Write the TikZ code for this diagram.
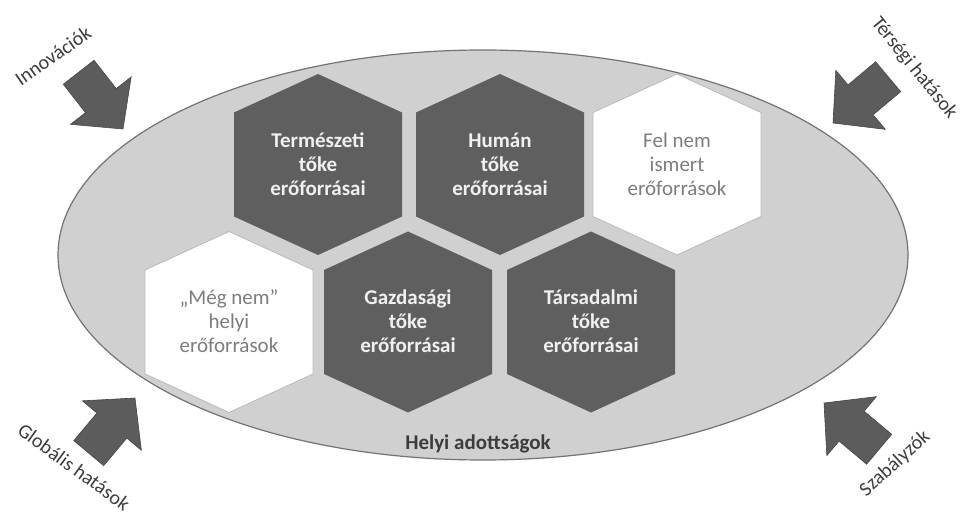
\documentclass[tikz,border=0pt]{standalone}
\usepackage{fontspec}
\setmainfont{Carlito}
\definecolor{ellfill}{RGB}{208,208,208}
\definecolor{elldraw}{RGB}{115,115,115}
\definecolor{hexdark}{RGB}{95,95,95}
\definecolor{arrowfill}{RGB}{92,92,92}
\definecolor{arrowdraw}{RGB}{70,70,70}
\definecolor{hexedge}{RGB}{185,185,185}
\definecolor{lighttext}{RGB}{125,125,125}
\definecolor{darktext}{RGB}{240,240,240}
\definecolor{labeltext}{RGB}{60,60,60}
\tikzset{
  pics/hexa/.style={code={\path[pic actions] (0,-90.5) -- (84,-52) -- (84,52) -- (0,90.5) -- (-84,52) -- (-84,-52) -- cycle;}},
  pics/fatarrow/.style={code={\path[pic actions] (0,0) -- (-36,-38.5) -- (-36,-19.5) -- (-72,-19.5) -- (-72,19.5) -- (-36,19.5) -- (-36,38.5) -- cycle;}},
  darkhex/.style={fill=hexdark},
  whitehex/.style={fill=white, draw=hexedge, line width=0.8pt},
  darklabel/.style={align=center, text=darktext, font=\fontsize{21}{24}\selectfont\bfseries},
  lightlabel/.style={align=center, text=lighttext, font=\fontsize{21}{24}\selectfont},
  bigarrow/.style={fill=arrowfill, draw=arrowdraw, line width=0.6pt},
  sidelabel/.style={text=labeltext, font=\fontsize{20}{24}\selectfont},
}
\begin{document}
\begin{tikzpicture}[x=1pt,y=-1pt]
\useasboundingbox (0,0) rectangle (961,518);
% base ellipse
\draw[fill=ellfill, draw=elldraw, line width=1.2pt] (483,255) ellipse [x radius=425, y radius=205];
% hexagons, top row
\pic[darkhex] at (318,164.5) {hexa};
\pic[darkhex] at (500,164.5) {hexa};
\pic[whitehex] at (677,164.5) {hexa};
% hexagons, bottom row
\pic[whitehex] at (229,322) {hexa};
\pic[darkhex] at (408,322) {hexa};
\pic[darkhex] at (591,322) {hexa};
% texts
\node[darklabel] (term) at (318,164) {Természeti\\tőke\\erőforrásai};
\node[darklabel] (human) at (500,164) {Humán\\tőke\\erőforrásai};
\node[lightlabel] (felnem) at (677,164) {Fel nem\\ismert\\erőforrások};
\node[lightlabel] (megnem) at (229,321) {„Még nem”\\helyi\\erőforrások};
\node[darklabel] (gazd) at (408,321) {Gazdasági\\tőke\\erőforrásai};
\node[darklabel] (tars) at (591,321) {Társadalmi\\tőke\\erőforrásai};
\node[text=labeltext, font=\fontsize{21}{24}\selectfont\bfseries] (helyi) at (478,444) {Helyi adottságok};
% arrows
\pic[bigarrow, rotate=-52] at (123,129) {fatarrow};
\pic[bigarrow, rotate=-140] at (833,123) {fatarrow};
\pic[bigarrow, rotate=50] at (135,398) {fatarrow};
\pic[bigarrow, rotate=140] at (824,403) {fatarrow};
% arrow labels
\node[sidelabel, rotate=35] (innov) at (53,56) {Innovációk};
\node[sidelabel, rotate=-51] (terseg) at (914,68) {Térségi hatások};
\node[sidelabel, rotate=-36] (glob) at (74,467) {Globális hatások};
\node[sidelabel, rotate=42] (szab) at (895,464) {Szabályzók};
\end{tikzpicture}
\end{document}
